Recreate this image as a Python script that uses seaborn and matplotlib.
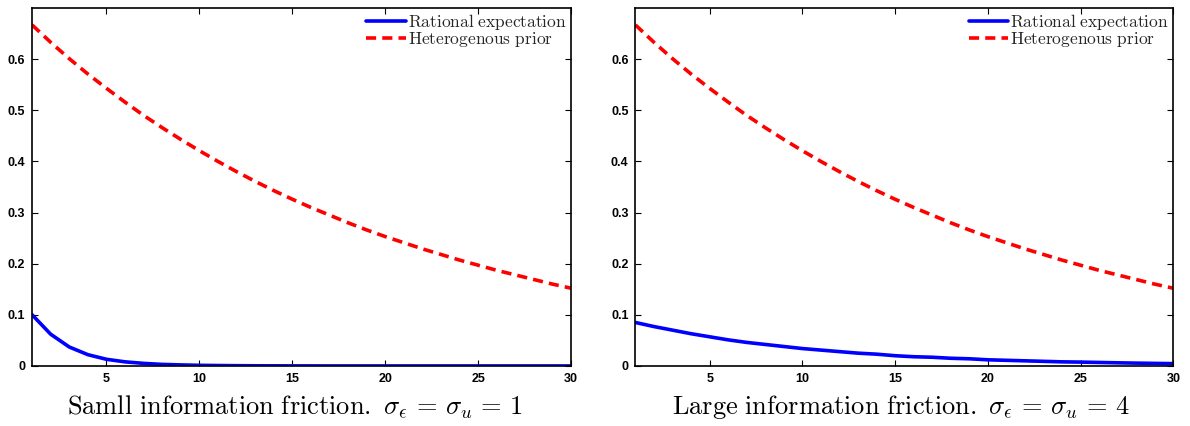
import numpy as np
import pandas as pd
import matplotlib
matplotlib.use("Agg")
import matplotlib.pyplot as plt
import seaborn as sns

periods = list(range(1, 31))

hetero_prior = [0.667, 0.633, 0.601, 0.571, 0.543, 0.516, 0.490, 0.466, 0.443, 0.421,
                0.400, 0.380, 0.361, 0.343, 0.326, 0.310, 0.295, 0.280, 0.266, 0.253,
                0.241, 0.229, 0.218, 0.207, 0.197, 0.187, 0.178, 0.169, 0.160, 0.152]

rational_small = [0.100, 0.062, 0.037, 0.022, 0.013, 0.008, 0.005, 0.003, 0.002, 0.0012,
                  0.0008, 0.0005, 0.0003, 0.0002, 0.0001, 0.0001, 0.0, 0.0, 0.0, 0.0,
                  0.0, 0.0, 0.0, 0.0, 0.0, 0.0, 0.0, 0.0, 0.0, 0.0]

rational_large = [0.085, 0.077, 0.070, 0.063, 0.057, 0.051, 0.046, 0.042, 0.038, 0.034,
                  0.031, 0.028, 0.025, 0.023, 0.020, 0.018, 0.017, 0.015, 0.014, 0.012,
                  0.011, 0.010, 0.009, 0.008, 0.0075, 0.0068, 0.0061, 0.0055, 0.0050, 0.0045]

titles = [r"$\mathrm{Samll\ information\ friction.}\ \sigma_\epsilon \,=\, \sigma_u \,=\, 1$",
          r"$\mathrm{Large\ information\ friction.}\ \sigma_\epsilon \,=\, \sigma_u \,=\, 4$"]
legend_labels = [r"$\mathrm{Rational\ expectation}$", r"$\mathrm{Heterogenous\ prior}$"]

x_ticks = [5, 10, 15, 20, 25, 30]
y_ticks = [0, 0.1, 0.2, 0.3, 0.4, 0.5, 0.6]
y_ticklabels = ["0", "0.1", "0.2", "0.3", "0.4", "0.5", "0.6"]

sns.set_style("ticks")
plt.rcParams["mathtext.fontset"] = "cm"
plt.rcParams["font.family"] = ["Liberation Sans", "DejaVu Sans"]

fig = plt.figure(figsize=(11.9, 4.26), dpi=100)
axes = [fig.add_axes([0.027, 0.141, 0.453, 0.840]),
        fig.add_axes([0.534, 0.141, 0.452, 0.840])]
label_x = [0.487, 0.493]

for ax, rat, title, lx in zip(axes, [rational_small, rational_large], titles, label_x):
    df = pd.DataFrame({"t": periods, "re": rat, "hp": hetero_prior})
    sns.lineplot(data=df, x="t", y="re", ax=ax, color="#0000ff", linewidth=2.6,
                 label=legend_labels[0])
    sns.lineplot(data=df, x="t", y="hp", ax=ax, color="#ff0000", linewidth=2.6,
                 linestyle=(0, (2.8, 1.7)), label=legend_labels[1])
    ax.set_xlim(1, 30)
    ax.set_ylim(0, 0.7)
    ax.set_xticks(x_ticks)
    ax.set_xticklabels([str(v) for v in x_ticks])
    ax.set_yticks(y_ticks)
    ax.set_yticklabels(y_ticklabels)
    ax.tick_params(direction="in", top=True, right=True, length=4, width=0.8,
                   labelsize=9, pad=5, colors="black")
    for lab in ax.get_xticklabels() + ax.get_yticklabels():
        lab.set_fontweight("bold")
    for sp in ax.spines.values():
        sp.set_visible(True)
        sp.set_linewidth(1.2)
        sp.set_color("black")
    ax.set_xlabel(title, fontsize=19, labelpad=6, color="black", x=lx)
    ax.set_ylabel("")
    leg = ax.legend(loc="upper right", frameon=False, handlelength=2.3,
                    handletextpad=0.1, labelspacing=-0.12, borderaxespad=0.2,
                    borderpad=0.05, fontsize=12.5)

fig.savefig("out.png", dpi=100)
